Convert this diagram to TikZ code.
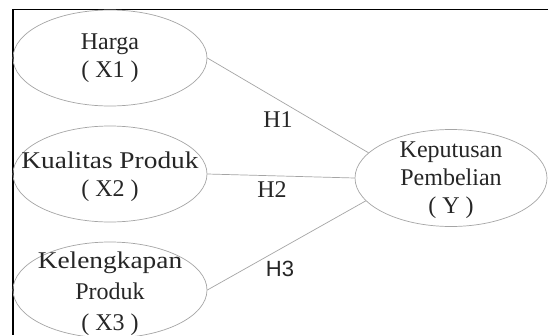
\documentclass[tikz,border=0pt]{standalone}
\usepackage{fontspec}
\setmainfont{Liberation Serif}
\newfontfamily\hsans{Liberation Sans}
\usetikzlibrary{shapes.geometric}
\definecolor{edgegray}{RGB}{165,165,165}
\tikzset{
  var/.style={ellipse, draw=edgegray, line width=0.7pt, minimum width=194pt, minimum height=96pt, inner sep=0pt},
  vtext/.style={align=center, inner sep=0pt, font=\fontsize{24}{28}\selectfont, text=black!85},
  link/.style={draw=edgegray, line width=0.7pt},
  hlab/.style={inner sep=0pt, font=\fontsize{24}{28}\selectfont, text=black!85},
  frame/.style={line width=1.3pt, black}
}
\begin{document}
\begin{tikzpicture}[x=1pt,y=-1pt]
\useasboundingbox (0,0) rectangle (553,335);
\fill[white] (0,0) rectangle (553,335);
\begin{scope}
\clip (0,0) rectangle (553,335);
% frame (top and left edges only)
\coordinate (ftl) at (13,9.5);
\coordinate (ftr) at (548,9.5);
\coordinate (fbl) at (13,335);
\draw[frame] (ftr) -- (ftl) -- (fbl);
% ellipses
\node[var] (x1) at (110,58) {};
\node[var] (x2) at (110,174) {};
\node[var] (x3) at (110,290) {};
\node[var, minimum width=192pt, minimum height=97pt] (y) at (451,178) {};
% texts
\node[vtext] (x1t) at (110,58) {Harga\\( X1 )};
\node[vtext] (x2t) at (110,177) {\scalebox{1.14}[1]{Kualitas Produk}\\( X2 )};
\node[vtext, font=\fontsize{24}{31}\selectfont] (x3t) at (110,294) {\scalebox{1.14}[1]{Kelengkapan}\\Produk\\( X3 )};
\node[vtext] (yt) at (451,180) {Keputusan\\Pembelian\\( Y )};
% connectors
\draw[link] (x1.east) -- (y.163);
\draw[link] (x2.east) -- (y.west);
\draw[link] (x3.east) -- (y.195);
% labels
\node[hlab] (h1) at (278,120) {H1};
\node[hlab] (h2) at (272,190) {H2};
\node[hlab, font=\hsans\fontsize{22}{26}\selectfont] (h3) at (280,269) {H3};
\end{scope}
\end{tikzpicture}
\end{document}
